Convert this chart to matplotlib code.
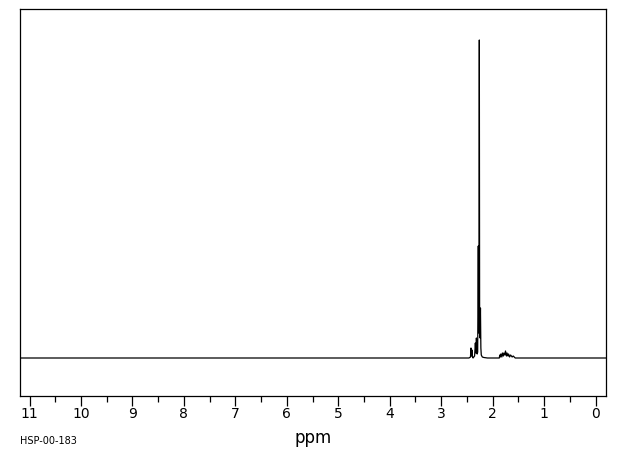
import numpy as np
from matplotlib import pyplot as plt

# spectrum trace (ppm, intensity above baseline)
ppm = [11.185, 2.46, 2.43, 2.42, 2.41, 2.40, 2.39, 2.38, 2.35, 2.335, 2.325,
       2.315, 2.30, 2.29, 2.278, 2.27, 2.265, 2.258, 2.252, 2.244, 2.236,
       2.228, 2.22, 2.20, 2.17, 2.10, 1.87, 1.86, 1.85, 1.84, 1.82, 1.81,
       1.79, 1.78, 1.76, 1.75, 1.73, 1.72, 1.70, 1.69, 1.67, 1.65, 1.62,
       1.60, 1.56, -0.204]
intensity = [0, 0, 1, 10, 2, 8, 1, 0, 2, 15, 5, 20, 4, 6, 112, 25, 30, 318,
             30, 20, 50, 10, 3, 1, 0.5, 0, 0, 3, 1, 4, 1, 5, 2, 5, 3, 7, 2, 5,
             2, 4, 1, 3, 1, 2, 0, 0]

major_ticks = list(range(0, 12))
minor_ticks = [x + 0.5 for x in range(0, 11)]

fig = plt.figure(figsize=(6.2, 4.55), dpi=100)
ax = fig.add_axes([20 / 620, 1 - 396 / 455, 586 / 620, 387 / 455])
ax.plot(ppm, intensity, color="black", linewidth=0.9)
ax.set_xlim(11.185, -0.204)
ax.set_ylim(-38, 349)
ax.set_yticks([])
ax.set_xticks(major_ticks)
ax.set_xticklabels([str(t) for t in major_ticks])
ax.set_xticks(minor_ticks, minor=True)
ax.tick_params(axis="x", which="major", direction="out", length=7, width=0.9,
               labelsize=10, pad=1)
ax.tick_params(axis="x", which="minor", direction="out", length=4, width=0.9)
for s in ax.spines.values():
    s.set_linewidth(0.9)
ax.set_xlabel("ppm", fontsize=12, labelpad=6)
fig.text(20 / 620, 1 - 441 / 455, "HSP-00-183", fontsize=7, va="center", ha="left")
fig.savefig("out.png", dpi=100)
